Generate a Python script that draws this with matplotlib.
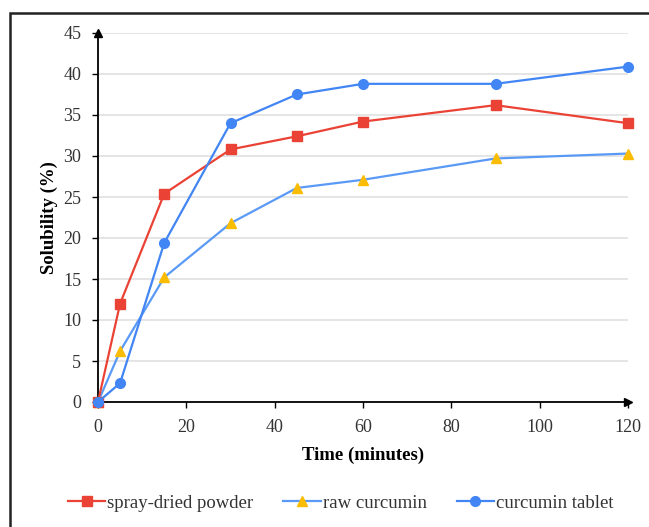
import matplotlib
matplotlib.use("Agg")
import matplotlib.pyplot as plt
from matplotlib.patches import Rectangle

time = [0, 5, 15, 30, 45, 60, 90, 120]
spray_dried = [0, 12.0, 25.4, 30.8, 32.4, 34.2, 36.2, 34.0]
raw_curcumin = [0, 6.2, 15.2, 21.8, 26.1, 27.1, 29.7, 30.3]
curcumin_tablet = [0, 2.3, 19.4, 34.0, 37.5, 38.8, 38.8, 40.9]
xticks = [0, 20, 40, 60, 80, 100, 120]
yticks = [0, 5, 10, 15, 20, 25, 30, 35, 40, 45]

plt.rcParams['font.family'] = ['Liberation Serif', 'DejaVu Serif']

fig = plt.figure(figsize=(6.49, 5.27), dpi=100)
ax = fig.add_axes([98/649, 1-402/527, 530/649, 369/527])

# frame border
fig.patches.append(Rectangle((10/649, -0.1), 1.2, 1 - 13/527 + 0.1, transform=fig.transFigure,
                             fill=False, edgecolor='#222222', linewidth=1.8))

red = '#EA4335'
blue = '#4285F4'
lblue = '#5A9AF6'
yellow = '#FBBC04'

for y in yticks[1:]:
    ax.axhline(y, color='#e3e3e3', linewidth=1.3, zorder=0)

ax.plot(time, spray_dried, color=red, linewidth=1.6, marker='s', markersize=7.5,
        label='spray-dried powder', clip_on=False, zorder=4)
ax.plot(time, raw_curcumin, color=lblue, linewidth=1.6, marker='^', markersize=7.5,
        markerfacecolor=yellow, markeredgecolor=yellow,
        label='raw curcumin', clip_on=False, zorder=3)
ax.plot(time, curcumin_tablet, color=blue, linewidth=1.6, marker='o', markersize=7,
        label='curcumin tablet', clip_on=False, zorder=5)

ax.set_xlim(0, 120)
ax.set_ylim(0, 45)
ax.set_xticks(xticks)
ax.set_yticks(yticks)
for s in ['top', 'right']:
    ax.spines[s].set_visible(False)
for s in ['left', 'bottom']:
    ax.spines[s].set_color('black')
    ax.spines[s].set_linewidth(1.3)
ax.tick_params(axis='both', direction='out', length=4, width=1, labelsize=13, colors='black')
ax.tick_params(axis='x', pad=8)
ax.tick_params(axis='y', pad=8)
for lab in ax.get_xticklabels() + ax.get_yticklabels():
    lab.set_color('#333333')

# arrows at axis ends
ax.plot([1], [0], marker='>', color='black', markersize=6, transform=ax.transAxes, clip_on=False)
ax.plot([0], [1], marker='^', color='black', markersize=6, transform=ax.transAxes, clip_on=False)

ax.set_xlabel('Time (minutes)', fontsize=13.5, fontweight='bold', labelpad=8)
ax.set_ylabel('Solubility (%)', fontsize=13.5, fontweight='bold', labelpad=4)

handles, labels = ax.get_legend_handles_labels()
leg = fig.legend(handles, labels, loc='center', bbox_to_anchor=(0.525, 1-503/527), ncol=3,
                 frameon=False, fontsize=13.5, handlelength=2.0, handletextpad=0.1,
                 columnspacing=1.6)
for t in leg.get_texts():
    t.set_color('#333333')

fig.savefig('out.png', dpi=100)
